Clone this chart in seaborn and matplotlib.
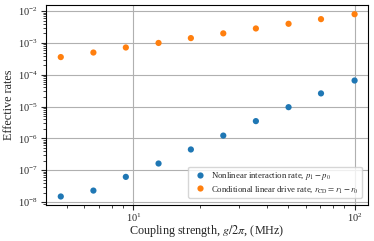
import numpy as np
import pandas as pd
import seaborn as sns
from matplotlib import pyplot as plt
from matplotlib.ticker import NullFormatter

# coupling strength g/2pi (MHz)
coupling = [4.7, 6.6, 9.25, 13.0, 18.2, 25.5, 35.8, 50.3, 70.5, 100.0]
nonlinear_rate = [1.5e-8, 2.3e-8, 6.2e-8, 1.63e-7, 4.5e-7, 1.23e-6, 3.5e-6, 9.6e-6, 2.6e-5, 6.6e-5]
drive_rate = [3.6e-4, 5.0e-4, 7.2e-4, 1.0e-3, 1.42e-3, 2.0e-3, 2.85e-3, 4.0e-3, 5.6e-3, 8.0e-3]
x_ticks = [10, 100]
y_ticks = [1e-8, 1e-7, 1e-6, 1e-5, 1e-4, 1e-3, 1e-2]

label_nl = r'Nonlinear interaction rate, $p_1 - p_0$'
label_cd = r'Conditional linear drive rate, $r_{\rm CD} = r_1 - r_0$'

df = pd.DataFrame({
    'g': coupling * 2,
    'rate': nonlinear_rate + drive_rate,
    'series': [label_nl] * len(coupling) + [label_cd] * len(coupling),
})

sns.set_style('ticks')
plt.rcParams['font.family'] = ['Liberation Serif', 'DejaVu Serif']
plt.rcParams['mathtext.fontset'] = 'stix'

fig = plt.figure(figsize=(3.74, 2.41), dpi=100)
ax = fig.add_axes([0.123, 0.149, 0.861, 0.830])

sns.scatterplot(data=df, x='g', y='rate', hue='series', palette=['#1f77b4', '#ff7f0e'],
                s=20, linewidth=0, ax=ax)
ax.set_xscale('log')
ax.set_yscale('log')
ax.set_xticks(x_ticks)
ax.set_yticks(y_ticks)
ax.set_xlim(4.03, 115)
ax.set_ylim(8.05e-9, 1.55e-2)
ax.xaxis.set_minor_formatter(NullFormatter())
ax.yaxis.set_minor_formatter(NullFormatter())
ax.grid(True, which='major', color='#b0b0b0', linewidth=0.8)
ax.set_axisbelow(True)
ax.tick_params(labelsize=7.4, length=3.5, width=0.8, pad=2.5)
ax.tick_params(axis='x', pad=1.5)
ax.tick_params(which='minor', length=2, width=0.6)
for sp in ax.spines.values():
    sp.set_linewidth(0.8)
    sp.set_color('black')

ax.set_xlabel(r'Coupling strength, $g/2\pi$, (MHz)', fontsize=8.7, labelpad=-1)
ax.set_ylabel('Effective rates', fontsize=8.7, labelpad=2)
ax.legend(loc='lower right', fontsize=6.3, frameon=True, handletextpad=0.3,
          borderpad=0.35, labelspacing=0.3, markerscale=1.0,
          bbox_to_anchor=(0.995, 0.015))

plt.savefig('out.png', dpi=100)
